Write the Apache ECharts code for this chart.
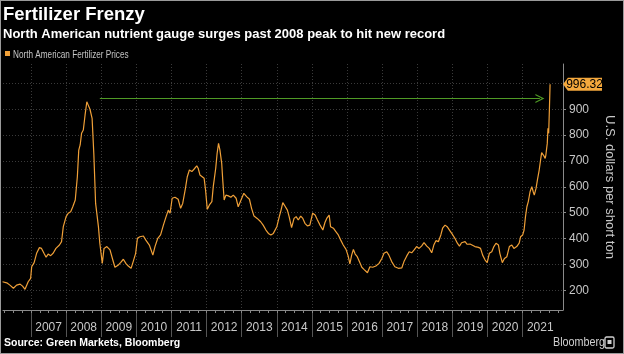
<!DOCTYPE html>
<html>
<head>
<meta charset="utf-8">
<script src="https://cdn.jsdelivr.net/npm/echarts@6/dist/echarts.min.js"></script>
<style>
html,body{margin:0;padding:0;background:#000;}
#chart{width:624px;height:354px;}
</style>
</head>
<body>
<div id="chart"></div>
<script>
// ---- data (decimal years, USD per short ton) ----
const years = [
2006.19,2006.31,2006.40,2006.50,2006.59,2006.69,2006.76,2006.83,2006.92,2006.99,
2007.02,2007.09,2007.16,2007.24,2007.30,2007.37,2007.43,2007.49,2007.56,2007.63,
2007.71,2007.81,2007.87,2007.92,2008.00,2008.06,2008.13,2008.19,2008.26,2008.32,
2008.36,2008.40,2008.44,2008.49,2008.54,2008.59,2008.63,2008.68,2008.74,2008.79,
2008.84,2008.87,2008.92,2008.96,2009.03,2009.08,2009.16,2009.25,2009.33,2009.39,
2009.49,2009.55,2009.63,2009.71,2009.77,2009.85,2009.91,2009.98,2010.03,2010.10,
2010.20,2010.27,2010.37,2010.47,2010.53,2010.61,2010.69,2010.77,2010.84,2010.91,
2010.96,2011.02,2011.10,2011.19,2011.26,2011.32,2011.39,2011.45,2011.51,2011.58,
2011.64,2011.72,2011.76,2011.81,2011.86,2011.93,2011.97,2012.02,2012.08,2012.15,
2012.19,2012.26,2012.30,2012.34,2012.38,2012.43,2012.46,2012.50,2012.55,2012.62,
2012.69,2012.76,2012.84,2012.90,2012.98,2013.06,2013.14,2013.22,2013.28,2013.35,
2013.44,2013.54,2013.61,2013.69,2013.76,2013.83,2013.90,2014.00,2014.07,2014.12,
2014.17,2014.23,2014.30,2014.35,2014.42,2014.49,2014.55,2014.61,2014.68,2014.74,
2014.80,2014.87,2014.94,2015.02,2015.09,2015.15,2015.23,2015.31,2015.37,2015.42,
2015.49,2015.53,2015.61,2015.68,2015.75,2015.82,2015.89,2015.97,2016.03,2016.08,
2016.13,2016.18,2016.23,2016.29,2016.35,2016.42,2016.48,2016.51,2016.58,2016.65,
2016.73,2016.82,2016.91,2016.99,2017.05,2017.13,2017.19,2017.27,2017.36,2017.46,
2017.56,2017.62,2017.70,2017.77,2017.84,2017.91,2017.98,2018.05,2018.12,2018.19,
2018.27,2018.34,2018.41,2018.47,2018.53,2018.60,2018.67,2018.72,2018.79,2018.85,
2018.93,2019.01,2019.07,2019.14,2019.20,2019.26,2019.36,2019.42,2019.50,2019.55,
2019.64,2019.74,2019.80,2019.86,2019.93,2019.99,2020.05,2020.12,2020.18,2020.24,
2020.31,2020.35,2020.42,2020.48,2020.55,2020.62,2020.69,2020.75,2020.83,2020.90,
2020.94,2021.00,2021.04,2021.08,2021.12,2021.16,2021.21,2021.26,2021.30,2021.33,
2021.38,2021.42,2021.47,2021.51,2021.54,2021.59,2021.64,2021.66,2021.70,2021.72,
2021.74,2021.76,2021.78
];
const prices = [
233,229,220,208,220,224,216,204,233,246,
291,307,343,365,362,343,328,340,334,343,
362,375,388,446,485,498,504,523,549,639,
742,762,807,820,878,929,916,900,865,725,
536,530,446,382,304,362,369,356,317,289,
298,307,320,302,294,285,311,343,401,407,
410,394,375,336,369,401,414,452,482,510,
498,556,560,552,517,536,588,639,665,659,
668,681,672,646,652,633,588,513,530,543,
601,672,730,768,742,691,626,549,568,565,
560,568,556,523,549,575,562,552,517,487,
478,465,452,433,420,414,420,446,485,510,
539,526,510,485,442,478,485,472,487,478,
459,449,452,498,491,474,452,433,462,478,
491,446,440,427,414,394,375,358,333,302,
336,358,340,330,311,289,281,276,268,291,
289,294,304,323,343,349,336,311,291,285,
287,311,333,349,345,356,369,362,371,384,
371,362,345,375,392,388,414,440,452,446,
430,414,401,382,371,384,388,378,379,375,
369,366,362,336,317,307,343,349,369,382,
375,343,307,323,330,369,375,362,369,382,
407,414,433,485,523,543,581,601,581,568,
594,627,665,704,732,723,710,723,768,826,
807,897,996.32
];
const latestValue = 996.32;
const seriesName = 'North American Fertilizer Prices';
const yTickValues = [200,300,400,500,600,700,800,900,1000];
const yLabelValues = [200,300,400,500,600,700,800,900];
const yearBoundaries = [2007,2008,2009,2010,2011,2012,2013,2014,2015,2016,2017,2018,2019,2020,2021];
const arrowStart = [2008.96, 942];
const arrowEnd = [2021.49, 942];

const xMin = 2006.203, xMax = 2022.148;
const yMin = 123.8, yMax = 1075;

const yearLabelPos = yearBoundaries.map(y => y + 0.5);
const quarterTicks = [];
for (let q = 2006.25; q <= 2022.01; q += 0.25) quarterTicks.push(+q.toFixed(2));

const FONT = "'Liberation Sans', Arial, sans-serif";
const ORANGE = '#f0a038';

const chart = echarts.init(document.getElementById('chart'), null, {renderer: 'canvas'});
chart.setOption({
  backgroundColor: '#000',
  animation: false,
  title: [
    {text: 'Fertilizer Frenzy', left: 3, top: 5, padding: 0,
     textStyle: {color: '#fff', fontSize: 18.5, fontWeight: 'bold', fontFamily: FONT}},
    {text: 'North American nutrient gauge surges past 2008 peak to hit new record', left: 3, top: 28, padding: 0,
     textStyle: {color: '#fff', fontSize: 13, fontWeight: 'bold', fontFamily: FONT}}
  ],
  legend: {
    left: 5, top: 51, padding: 0, itemWidth: 5, itemHeight: 5, itemGap: 3,
    icon: 'rect', formatter: () => '',
    textStyle: {color: '#c4c4c4', fontSize: 9, fontFamily: FONT},
    data: [seriesName]
  },
  grid: {left: 3, right: 61, top: 64, bottom: 44, containLabel: false},
  xAxis: [
    {
      type: 'value', min: xMin, max: xMax,
      axisLine: {show: true, lineStyle: {color: '#8a8a8a', width: 1}},
      axisTick: {show: true, customValues: yearBoundaries, length: 27, lineStyle: {color: '#555'}},
      axisLabel: {show: true, customValues: yearLabelPos, formatter: v => String(Math.floor(v)),
        color: '#c8c8c8', fontSize: 12, fontFamily: FONT, margin: 12},
      splitLine: {show: true, lineStyle: {color: '#3a3a3a', type: [1, 2], width: 1}}
    },
    {
      type: 'value', min: xMin, max: xMax, position: 'bottom',
      axisLine: {show: false},
      axisTick: {show: true, customValues: quarterTicks, length: 3, lineStyle: {color: '#888'}},
      axisLabel: {show: false},
      splitLine: {show: false}
    }
  ],
  yAxis: {
    type: 'value', position: 'right', min: yMin, max: yMax,
    name: 'U.S. dollars per short ton', nameLocation: 'middle', nameRotate: -90, nameGap: 40,
    nameTextStyle: {color: '#c8c8c8', fontSize: 13, fontFamily: FONT},
    axisLine: {show: true, lineStyle: {color: '#8a8a8a'}},
    axisTick: {show: true, customValues: yTickValues, length: 3, lineStyle: {color: '#8a8a8a'}},
    axisLabel: {customValues: yLabelValues, color: '#c8c8c8', fontSize: 12, fontFamily: FONT, margin: 6},
    splitLine: {show: true, lineStyle: {color: '#3a3a3a', type: [1, 2], width: 1}}
  },
  series: [{
    name: seriesName, type: 'line', xAxisIndex: 0,
    data: years.map((y, i) => [y, prices[i]]),
    showSymbol: false, clip: false,
    lineStyle: {color: ORANGE, width: 1.2},
    itemStyle: {color: ORANGE},
    markLine: {
      silent: true, animation: false,
      symbol: ['none', 'path://M5,0 L10,10 L8.6,10 L5,2.8 L1.4,10 L0,10 Z'],
      symbolSize: [9, 9],
      lineStyle: {color: '#4f9a25', width: 1, type: 'solid'},
      label: {show: false},
      data: [[{coord: arrowStart}, {coord: arrowEnd}]]
    },
    markPoint: {
      silent: true, animation: false,
      symbol: 'path://M0,6 L5,0 L40,0 L40,12 L5,12 Z',
      symbolSize: [39, 13], symbolKeepAspect: false,
      symbolOffset: ['50%', 0],
      itemStyle: {color: '#f4a83d'},
      label: {show: true, position: 'inside', formatter: () => latestValue.toFixed(2),
        color: '#000', fontSize: 12, fontFamily: FONT, offset: [2, 0]},
      data: [{coord: [xMax, latestValue]}]
    }
  }],
  graphic: [
    {type: 'text', x: 13, y: 50, scaleX: 0.78,
     style: {text: seriesName, fill: '#c4c4c4', font: '10.5px ' + FONT}},
    {type: 'text', x: 4, y: 338,
     style: {text: 'Source: Green Markets, Bloomberg', fill: '#fff', font: 'bold 10.5px ' + FONT}},
    {type: 'text', x: 553, y: 336, scaleX: 0.86,
     style: {text: 'Bloomberg', fill: '#d0d0d0', font: '12.5px ' + FONT}},
    {type: 'rect', x: 605, y: 337, shape: {width: 9, height: 11, r: 1.5},
     style: {fill: 'none', stroke: '#d0d0d0', lineWidth: 1.3}},
    {type: 'rect', x: 607.5, y: 340, shape: {width: 4, height: 4},
     style: {fill: '#d0d0d0'}},
    {type: 'rect', x: 0, y: 0, shape: {width: 624, height: 354},
     style: {fill: 'none', stroke: '#9a9a9a', lineWidth: 2}, z: 100}
  ]
});
</script>
</body>
</html>
